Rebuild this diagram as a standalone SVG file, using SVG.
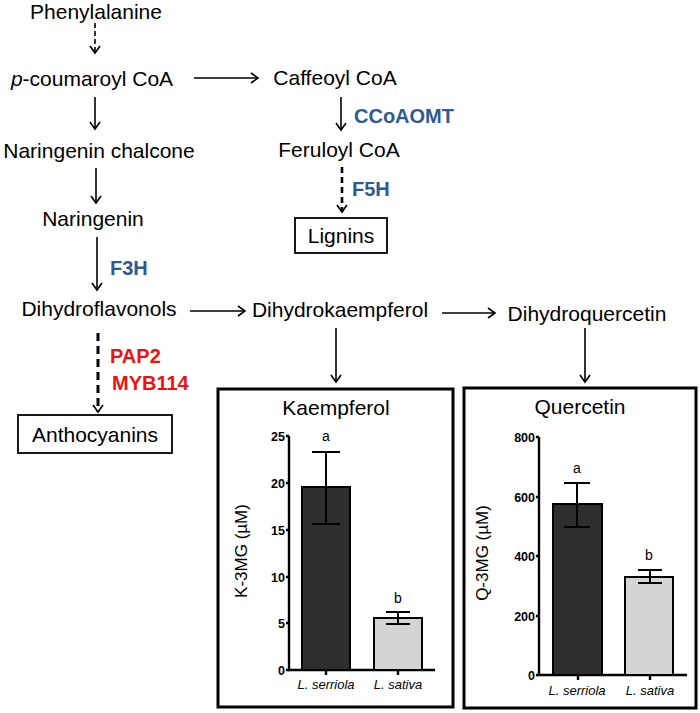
<svg xmlns="http://www.w3.org/2000/svg" width="700" height="713" viewBox="0 0 700 713">
<style>
text{font-family:"Liberation Sans",Arial,sans-serif;fill:#000}
.t{font-size:21px;text-anchor:middle}
.blue{font-size:20px;font-weight:bold;fill:#2e5a8f}
.red{font-size:20px;font-weight:bold;fill:#ee1111}
.ln{stroke:#000;stroke-width:1.6;fill:none}
.d1{stroke-dasharray:5 3}
.d2{stroke-width:2.6;stroke-dasharray:6 4}
.d3{stroke-width:3;stroke-dasharray:8 5}
.box{fill:#fff;stroke:#000;stroke-width:1.8}
.panel{fill:#fff;stroke:#000;stroke-width:3}
.ax{stroke:#000;stroke-width:2.4;fill:none}
.tk{font-size:12.5px;font-weight:bold;text-anchor:end}
.xl{font-size:13px;font-style:italic;text-anchor:middle}
.lt{font-size:14px;text-anchor:middle}
.yt{font-size:17px;text-anchor:middle}
.ttl{font-size:21px;text-anchor:middle}
.dark{fill:#2e2e2e;stroke:#000;stroke-width:2}
.light{fill:#d4d4d4;stroke:#000;stroke-width:2}
.err{stroke:#000;stroke-width:2;fill:none}
</style>
<defs>
<marker id="ah" markerWidth="12" markerHeight="12" refX="10" refY="6" orient="auto" markerUnits="userSpaceOnUse">
<path d="M3,1 L10,6 L3,11" fill="none" stroke="#000" stroke-width="1.6"/>
</marker>
</defs>

<g id="connectors">
<line class="ln d1" x1="95" y1="23" x2="95" y2="53" marker-end="url(#ah)"/>
<line class="ln" x1="95" y1="97" x2="95" y2="129" marker-end="url(#ah)"/>
<line class="ln" x1="96" y1="168" x2="96" y2="203" marker-end="url(#ah)"/>
<line class="ln" x1="97" y1="237" x2="97" y2="290" marker-end="url(#ah)"/>
<line class="ln" x1="194" y1="78" x2="258" y2="78" marker-end="url(#ah)"/>
<line class="ln" x1="341" y1="97" x2="341" y2="130" marker-end="url(#ah)"/>
<line class="ln d2" x1="342" y1="167" x2="342" y2="212" marker-end="url(#ah)"/>
<line class="ln" x1="190" y1="311" x2="245" y2="311" marker-end="url(#ah)"/>
<line class="ln" x1="442" y1="313" x2="495" y2="313" marker-end="url(#ah)"/>
<line class="ln" x1="336" y1="328" x2="336" y2="382" marker-end="url(#ah)"/>
<line class="ln" x1="585" y1="328" x2="585" y2="382" marker-end="url(#ah)"/>
<line class="ln d3" x1="98" y1="333" x2="98" y2="412" marker-end="url(#ah)"/>
</g>

<g id="phenylalanine"><text class="t" x="96" y="19" font-size="20">Phenylalanine</text></g>
<g id="coumaroyl"><text class="t" x="92" y="86"><tspan font-style="italic">p</tspan>-coumaroyl CoA</text></g>
<g id="caffeoyl"><text class="t" x="335" y="85">Caffeoyl CoA</text></g>
<g id="ccoaomt"><text class="blue" x="354" y="123">CCoAOMT</text></g>
<g id="feruloyl"><text class="t" x="339" y="157">Feruloyl CoA</text></g>
<g id="f5h"><text class="blue" x="352" y="196">F5H</text></g>
<g id="lignins"><rect class="box" x="295" y="218" width="92" height="35"/><text class="t" x="341" y="243">Lignins</text></g>
<g id="chalcone"><text class="t" x="99" y="158">Naringenin chalcone</text></g>
<g id="naringenin"><text class="t" x="93" y="226">Naringenin</text></g>
<g id="f3h"><text class="blue" x="110" y="275">F3H</text></g>
<g id="dihydroflavonols"><text class="t" x="99" y="316">Dihydroflavonols</text></g>
<g id="dihydrokaempferol"><text class="t" x="340" y="317">Dihydrokaempferol</text></g>
<g id="dihydroquercetin"><text class="t" x="587" y="321">Dihydroquercetin</text></g>
<g id="pap2"><text class="red" x="110" y="363">PAP2</text><text class="red" x="112" y="390">MYB114</text></g>
<g id="anthocyanins"><rect class="box" x="18" y="415" width="154" height="38"/><text class="t" x="95" y="442">Anthocyanins</text></g>

<g id="kaempferol-panel">
<rect class="panel" x="218" y="389" width="235" height="318"/>
<text class="ttl" x="336" y="415">Kaempferol</text>
<path class="ax" d="M289,436 V670 H435"/>
<path class="ax" d="M286,436 H289 M286,483 H289 M286,530 H289 M286,577 H289 M286,623 H289 M286,670 H289 M326,670 V675 M398,670 V675" stroke-width="1.8"/>
<text class="tk" x="285" y="441">25</text>
<text class="tk" x="285" y="488">20</text>
<text class="tk" x="285" y="535">15</text>
<text class="tk" x="285" y="582">10</text>
<text class="tk" x="285" y="628">5</text>
<text class="tk" x="285" y="675">0</text>
<rect class="dark" x="302" y="487" width="48" height="183"/>
<rect class="light" x="374" y="618" width="48" height="52"/>
<path class="err" d="M326,452 V524 M312,452 H340 M312,524 H340"/>
<path class="err" d="M398,612 V624 M386,612 H410 M386,624 H410"/>
<text class="lt" x="326" y="441">a</text>
<text class="lt" x="398" y="603">b</text>
<text class="xl" x="326" y="689">L. serriola</text>
<text class="xl" x="398" y="689">L. sativa</text>
<text class="yt" transform="translate(247,551) rotate(-90)">K-3MG (µM)</text>
</g>

<g id="quercetin-panel">
<rect class="panel" x="464" y="388" width="232" height="320"/>
<text class="ttl" x="580" y="414">Quercetin</text>
<path class="ax" d="M539,437 V675 H687"/>
<path class="ax" d="M536,437 H539 M536,497 H539 M536,556 H539 M536,616 H539 M536,675 H539 M578,675 V680 M650,675 V680" stroke-width="1.8"/>
<text class="tk" x="535" y="442">800</text>
<text class="tk" x="535" y="502">600</text>
<text class="tk" x="535" y="561">400</text>
<text class="tk" x="535" y="621">200</text>
<text class="tk" x="535" y="680">0</text>
<rect class="dark" x="553" y="504" width="49" height="171"/>
<rect class="light" x="625" y="577" width="48" height="98"/>
<path class="err" d="M577,483 V527 M564,483 H590 M564,527 H590"/>
<path class="err" d="M650,570 V583 M638,570 H662 M638,583 H662"/>
<text class="lt" x="577" y="473">a</text>
<text class="lt" x="649" y="560">b</text>
<text class="xl" x="577" y="695">L. serriola</text>
<text class="xl" x="650" y="695">L. sativa</text>
<text class="yt" transform="translate(488,553) rotate(-90)">Q-3MG (µM)</text>
</g>
</svg>
